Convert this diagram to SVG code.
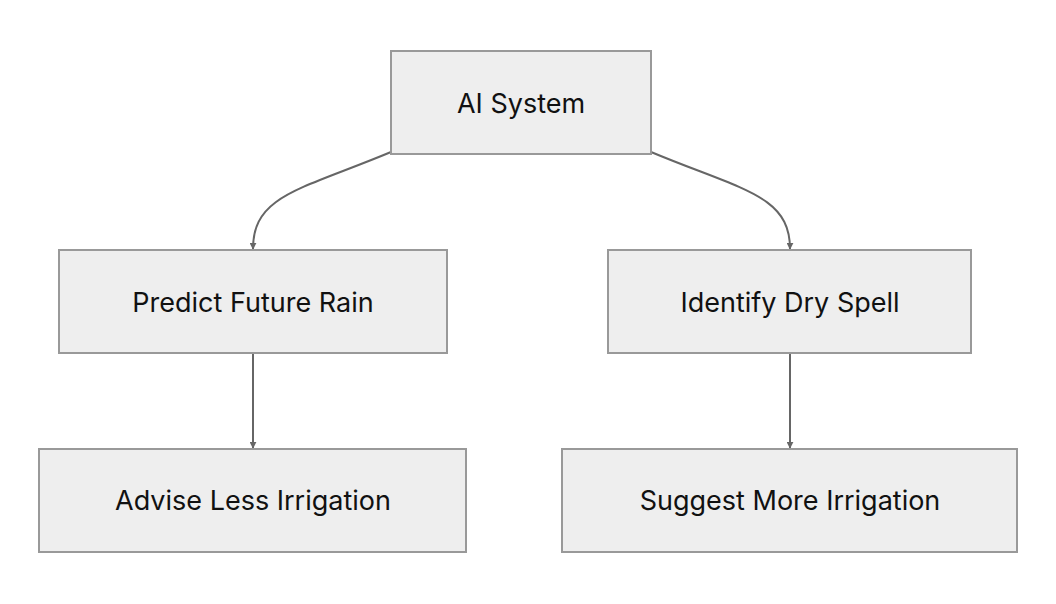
<svg xmlns="http://www.w3.org/2000/svg" width="1056" height="604" viewBox="0 0 1056 604">
<style>
.n rect{fill:#eeeeee;stroke:#999999;stroke-width:2}
.n text{font-family:Inter,"Liberation Sans",sans-serif;font-size:27px;fill:#111;text-anchor:middle;dominant-baseline:central}
.e path{fill:none;stroke:#666;stroke-width:2;marker-end:url(#a)}
</style>
<defs><marker id="a" viewBox="0 0 10 10" refX="9" refY="5" markerWidth="7" markerHeight="7" markerUnits="userSpaceOnUse" orient="auto"><path d="M0,0L10,5L0,10z" fill="#666"/></marker></defs>
<rect width="1056" height="604" fill="#fff"/>
<g class="e">
<path d="M391,152 C300,190 253,195 253,249"/>
<path d="M651,152 C742,190 790,195 790,249"/>
<path d="M253,353 L253,448"/>
<path d="M790,353 L790,448"/>
</g>
<g class="n" id="ai"><rect x="391" y="51" width="260" height="103"/><text x="521" y="103">AI System</text></g>
<g class="n" id="predict"><rect x="59" y="250" width="388" height="103"/><text x="253" y="302">Predict Future Rain</text></g>
<g class="n" id="dry"><rect x="608" y="250" width="363" height="103"/><text x="790" y="302">Identify Dry Spell</text></g>
<g class="n" id="less"><rect x="39" y="449" width="427" height="103"/><text x="253" y="500">Advise Less Irrigation</text></g>
<g class="n" id="more"><rect x="562" y="449" width="455" height="103"/><text x="790" y="500">Suggest More Irrigation</text></g>
</svg>
